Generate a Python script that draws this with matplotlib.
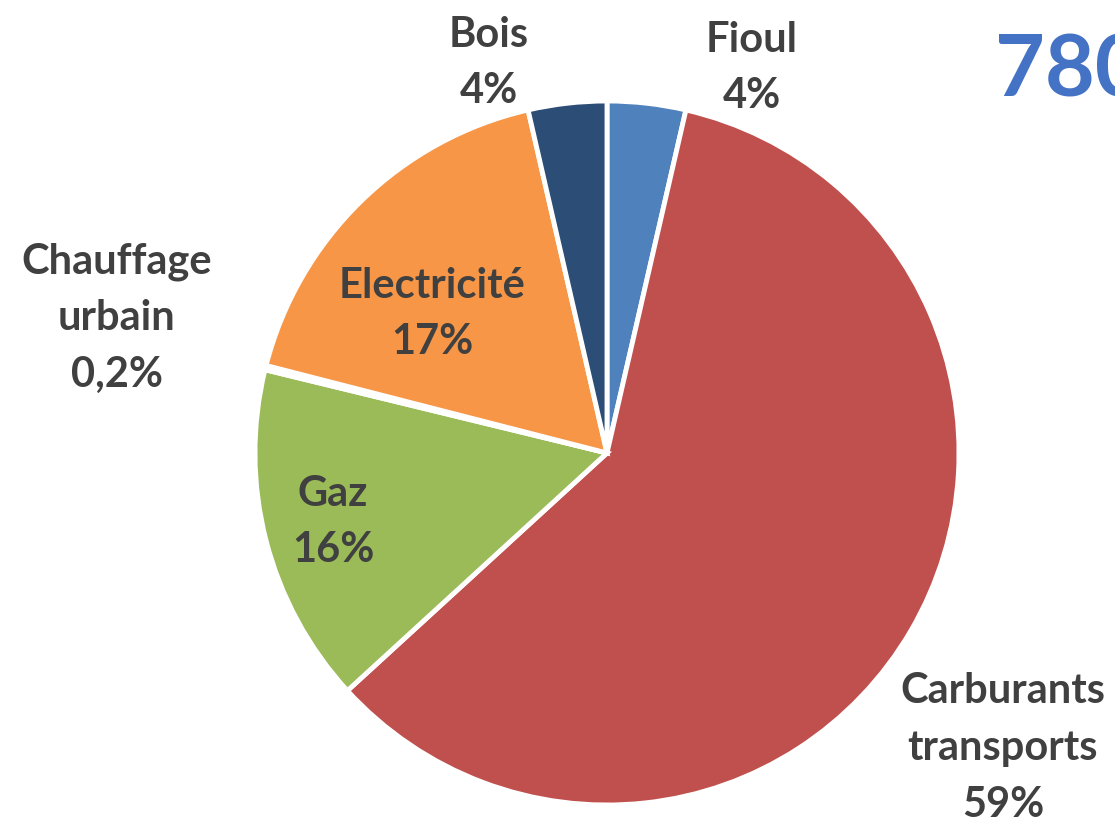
import matplotlib.pyplot as plt

# parts de consommation d'énergie (sens horaire depuis le haut)
categories = ["Fioul", "Carburants\ntransports", "Gaz", "Chauffage\nurbain", "Electricité", "Bois"]
valeurs = [3.6, 59.6, 15.6, 0.2, 17.4, 3.6]
etiquettes = ["4%", "59%", "16%", "0,2%", "17%", "4%"]
couleurs = ["#4F81BD", "#C0504D", "#9BBB59", "#8064A2", "#F79646", "#2C4D75"]
total = "780"

W, H = 1115, 824
fig = plt.figure(figsize=(W / 100, H / 100), dpi=100)
ax = fig.add_axes([0, 0, 1, 1])

cx, cy, r = 607, H - 453, 352
ax.pie(valeurs, colors=couleurs, startangle=90, counterclock=False,
       center=(cx, cy), radius=r, frame=True,
       wedgeprops=dict(edgecolor="white", linewidth=3.5))
ax.set_xlim(0, W)
ax.set_ylim(0, H)
ax.set_aspect("equal")
ax.axis("off")

# positions des étiquettes (pixels, depuis le haut)
pos = [(752, 68), (1003, 748), (333, 522), (117, 318), (432, 314), (489, 63)]
police = dict(family="Lato", weight="bold", color="#404040", fontsize=30,
              ha="center", va="center", linespacing=1.6)
for cat, lab, (x, y) in zip(categories, etiquettes, pos):
    ax.text(x, H - y, cat + "\n" + lab, **police)

ax.text(995, H - 72, total, family="Lato", weight="bold", color="#4472C4",
        fontsize=62, ha="left", va="center")

fig.savefig("out.png", dpi=100)
